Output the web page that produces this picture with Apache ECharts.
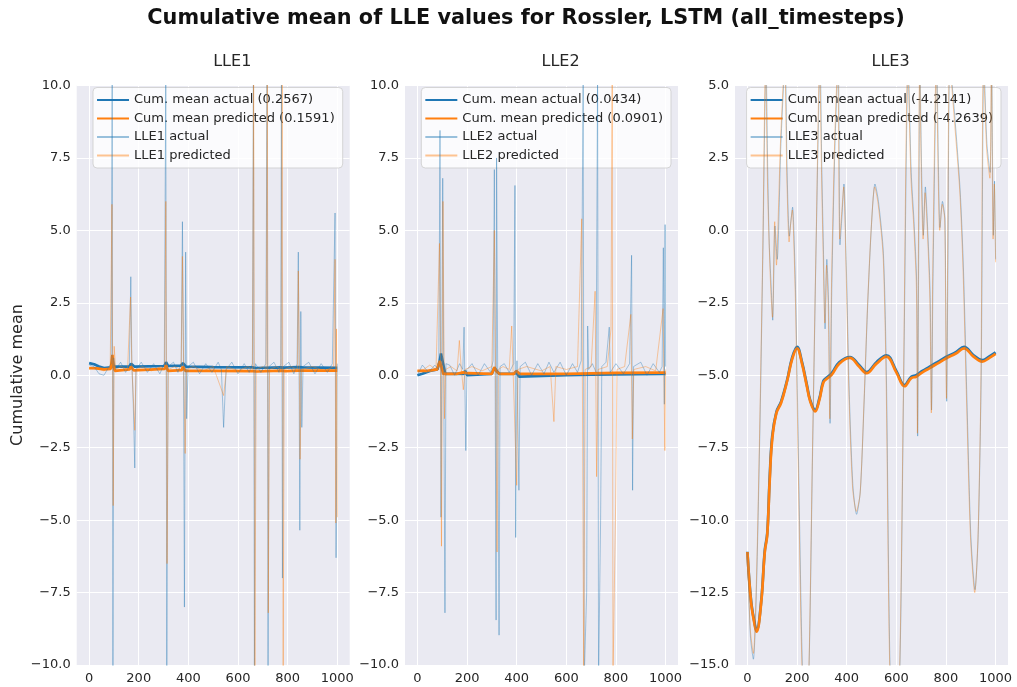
<!DOCTYPE html>
<html>
<head>
<meta charset="utf-8">
<script src="https://cdn.jsdelivr.net/npm/echarts@6/dist/echarts.min.js"></script>
<style>
  html, body { margin: 0; padding: 0; background: #fff; }
  #chart { width: 1017px; height: 687px; }
</style>
</head>
<body>
<div id="chart"></div>
<script>
// x ticks shared by the three panels
const xTicks = [0, 200, 400, 600, 800, 1000]

// ---- LLE1 ----
const lle1CumActual = [[0,0.42],[20,0.38],[40,0.3],[60,0.25],[88,0.27],[94,0.45],[99,0.3],[107,0.35],[162,0.3],[169,0.4],[182,0.3],[303,0.32],[310,0.45],[318,0.32],[370,0.33],[378,0.42],[390,0.3],[500,0.28],[658,0.27],[664,0.33],[672,0.25],[772,0.27],[778,0.32],[785,0.26],[842,0.28],[848,0.31],[860,0.27],[1000,0.2567]]
const lle1CumPred = [[0,0.25],[30,0.24],[60,0.2],[87,0.22],[94,0.7],[98,0.3],[104,0.15],[163,0.2],[168,0.3],[180,0.17],[305,0.22],[310,0.35],[318,0.15],[374,0.18],[378,0.3],[388,0.15],[500,0.15],[660,0.14],[665,0.2],[675,0.13],[775,0.16],[780,0.22],[790,0.14],[842,0.16],[1000,0.1591]]
const lle1Actual = [[0,0.35],[20,0.3],[40,0.05],[60,0.0],[80,0.3],[89,0.4],[93,10.5],[96,-10.5],[99,0.6],[107,0.2],[127,0.45],[147,0.1],[162,0.3],[168,3.4],[172,0.5],[178,-1.0],[184,-3.2],[189,0.2],[210,0.45],[235,0.1],[260,0.4],[285,0.05],[303,0.4],[309,10.5],[313,-10.5],[318,0.3],[340,0.45],[358,0.1],[371,0.4],[376,5.3],[380,0.8],[384,-8.0],[389,4.25],[393,-1.5],[399,0.3],[420,0.45],[445,0.05],[470,0.4],[495,0.1],[520,0.45],[533,0.2],[542,-1.8],[552,0.2],[575,0.45],[600,0.05],[625,0.4],[645,0.1],[658,0.4],[662,10.5],[666,-10.5],[670,0.4],[692,0.1],[712,0.4],[717,10.5],[721,-10.5],[725,0.3],[745,0.45],[765,0.1],[772,0.4],[775,10.5],[779,-7.0],[783,0.3],[805,0.45],[825,0.05],[838,0.4],[843,4.25],[846,0.4],[849,-5.35],[853,2.2],[857,-1.8],[862,0.3],[885,0.45],[910,0.05],[935,0.4],[960,0.1],[980,0.4],[991,5.6],[995,-6.3],[1000,0.4]]
const lle1Pred = [[0,0.2],[30,0.25],[60,0.15],[85,0.3],[92,5.9],[97,-4.5],[101,1.0],[107,0.2],[130,0.3],[155,0.2],[167,2.7],[172,0.4],[184,-1.9],[189,0.2],[215,0.3],[250,0.15],[290,0.3],[304,0.2],[309,6.0],[314,-6.5],[319,0.2],[345,0.3],[371,0.2],[376,4.1],[381,0.3],[387,-2.7],[392,0.2],[420,0.3],[460,0.15],[500,0.3],[542,-0.7],[555,0.3],[600,0.15],[640,0.3],[658,0.2],[663,10.5],[668,-10.5],[673,0.2],[700,0.3],[713,0.2],[718,10.5],[722,-8.2],[727,0.2],[755,0.3],[773,0.2],[778,10.5],[782,-10.5],[786,0.2],[815,0.3],[839,0.2],[843,3.6],[847,0.3],[850,-2.9],[855,0.2],[900,0.3],[950,0.15],[985,0.3],[991,4.0],[994,-5.1],[997,1.6],[1000,-4.9]]

// ---- LLE2 ----
const lle2CumActual = [[0,0.0],[20,0.05],[50,0.15],[80,0.2],[90,0.5],[95,0.75],[103,0.75],[112,0.05],[160,0.05],[187,0.05],[192,0.15],[200,0.0],[300,0.05],[310,0.25],[318,0.2],[330,0.05],[390,0.05],[397,0.12],[410,-0.05],[600,0.0],[700,0.02],[800,0.03],[1000,0.0434]]
const lle2CumPred = [[0,0.15],[40,0.15],[80,0.2],[90,0.5],[96,0.45],[104,0.05],[160,0.05],[185,0.1],[192,0.15],[202,0.07],[300,0.05],[310,0.28],[320,0.12],[332,0.05],[390,0.05],[398,0.15],[412,0.05],[600,0.05],[800,0.08],[1000,0.0901]]
const lle2Actual = [[0,0.0],[20,0.35],[45,0.1],[70,0.35],[86,0.2],[91,8.45],[95,-4.9],[102,6.8],[111,-8.2],[115,0.4],[130,0.35],[150,0.0],[170,0.4],[183,0.2],[188,1.66],[195,-2.6],[200,0.2],[220,0.4],[245,0.0],[270,0.4],[295,0.1],[305,0.5],[310,7.1],[317,-8.45],[319,7.5],[329,-8.97],[333,0.3],[350,0.4],[370,0.1],[388,0.4],[393,6.55],[396,-5.6],[401,0.5],[409,-3.97],[414,0.3],[435,0.45],[460,0.0],[485,0.4],[510,0.05],[530,0.45],[550,0.1],[575,0.45],[600,0.0],[625,0.4],[645,0.1],[660,0.5],[664,5.3],[668,10.5],[672,-10.5],[682,-7.5],[686,1.7],[690,0.2],[705,0.4],[720,0.1],[726,10.5],[730,-10.5],[738,-5.1],[743,0.3],[760,0.45],[773,1.66],[777,0.1],[800,0.4],[830,0.05],[855,0.4],[863,4.14],[867,-3.97],[871,0.3],[900,0.45],[925,0.0],[950,0.4],[975,0.1],[986,0.3],[991,4.4],[995,-1.0],[998,5.2],[1000,0.3]]
const lle2Pred = [[0,0.15],[25,0.2],[50,0.35],[75,0.2],[89,4.55],[93,0.3],[97,-5.9],[103,6.0],[109,-1.5],[114,0.2],[135,0.3],[160,0.15],[169,1.2],[176,0.3],[185,-0.5],[192,0.2],[220,0.3],[260,0.15],[300,0.3],[310,5.0],[315,0.3],[321,-6.1],[326,0.2],[345,0.3],[370,0.2],[380,1.7],[385,0.3],[400,-3.8],[405,0.2],[440,0.3],[500,0.15],[535,0.3],[550,-1.6],[558,0.3],[600,0.2],[645,0.3],[662,5.4],[670,-10.5],[676,0.2],[700,0.3],[716,2.9],[722,-3.5],[728,0.2],[765,0.3],[780,1.6],[785,10.5],[788,-10.5],[799,-4.3],[804,0.2],[835,0.3],[860,2.1],[866,-2.2],[872,0.2],[920,0.3],[960,0.15],[990,2.3],[997,-2.6],[1000,0.2]]

// ---- LLE3 ----
const lle3CumActual = [[0,-11.09],[15,-12.8],[30,-13.6],[37,-13.8],[55,-12.85],[70,-11.05],[80,-10.45],[90,-8.5],[100,-7.1],[117,-6.26],[136,-5.9],[160,-5.17],[180,-4.4],[200,-4.02],[220,-4.55],[240,-5.35],[253,-5.86],[273,-6.2],[290,-5.8],[306,-5.2],[320,-5.08],[340,-4.93],[370,-4.55],[413,-4.37],[450,-4.65],[480,-4.89],[520,-4.55],[560,-4.31],[600,-4.85],[633,-5.34],[660,-5.05],[680,-5.0],[705,-4.85],[733,-4.71],[765,-4.55],[800,-4.37],[840,-4.2],[873,-4.02],[910,-4.3],[946,-4.48],[975,-4.35],[1000,-4.2141]]
const lle3CumPred = [[0,-11.1],[15,-12.85],[30,-13.65],[37,-13.85],[55,-12.9],[70,-11.1],[80,-10.5],[90,-8.6],[100,-7.2],[117,-6.3],[136,-5.95],[160,-5.2],[180,-4.45],[200,-4.07],[220,-4.6],[240,-5.4],[253,-5.9],[273,-6.25],[290,-5.85],[306,-5.25],[320,-5.12],[340,-4.98],[370,-4.6],[413,-4.4],[450,-4.7],[480,-4.93],[520,-4.6],[560,-4.36],[600,-4.9],[633,-5.38],[660,-5.1],[680,-5.05],[705,-4.9],[733,-4.76],[765,-4.6],[800,-4.42],[840,-4.25],[873,-4.07],[910,-4.35],[946,-4.53],[975,-4.4],[1000,-4.2639]]
const lle3Actual = [[0,-11.1],[12,-14.0],[24,-14.8],[36,-12.5],[50,-7.0],[62,-1.0],[75,5.8],[82,2.0],[88,-0.45],[95,-1.8],[102,-3.1],[111,0.15],[120,-1.0],[135,3.0],[152,5.8],[160,2.0],[169,-0.2],[175,0.3],[182,0.8],[189,-0.5],[196,-2.9],[210,-10.0],[222,-15.2],[235,-17.0],[248,-15.2],[262,-8.0],[278,0.0],[293,5.8],[300,2.0],[306,-0.5],[313,-3.4],[320,-1.0],[327,-2.5],[333,-6.66],[340,-2.0],[353,3.0],[366,5.8],[373,-0.5],[381,0.5],[389,1.6],[398,-1.0],[410,-5.5],[425,-8.8],[440,-9.8],[455,-9.0],[470,-6.0],[485,-2.5],[500,0.2],[514,1.6],[528,1.0],[548,-0.8],[560,-5.0],[575,-15.2],[594,-18.0],[614,-15.2],[630,-5.0],[648,5.8],[660,2.0],[671,0.35],[682,-1.8],[686,-7.1],[690,-1.0],[695,5.8],[702,2.0],[709,-0.17],[717,1.5],[725,0.3],[736,-2.1],[742,-6.2],[748,-1.5],[763,5.8],[770,2.0],[776,0.1],[786,1.0],[796,0.35],[803,-5.9],[808,-1.0],[816,5.8],[835,4.0],[857,1.4],[870,-1.2],[885,-6.0],[900,-10.5],[917,-12.4],[930,-10.5],[942,-5.0],[953,5.8],[965,3.0],[978,2.0],[984,5.8],[991,-0.17],[996,1.7],[1000,-1.0]]
const lle3Pred = [[0,-11.1],[12,-13.8],[24,-14.6],[36,-12.2],[50,-6.6],[62,-0.6],[73,5.8],[81,1.6],[87,-0.3],[94,-2.0],[101,-3.0],[110,0.3],[117,-1.2],[125,0.7],[134,3.2],[150,5.8],[159,1.8],[168,-0.4],[174,0.2],[181,0.7],[188,-0.7],[195,-3.0],[209,-10.3],[221,-15.4],[234,-17.0],[247,-15.4],[261,-8.2],[277,-0.3],[291,5.8],[299,1.8],[305,-0.7],[312,-3.2],[319,-1.2],[326,-2.7],[332,-6.5],[339,-1.8],[352,3.2],[364,5.8],[372,-0.3],[380,0.6],[388,1.5],[397,-1.1],[409,-5.6],[424,-8.9],[439,-9.7],[454,-9.1],[469,-6.1],[484,-2.6],[499,0.1],[513,1.5],[527,0.9],[547,-0.9],[559,-5.2],[574,-15.3],[593,-18.0],[613,-15.3],[629,-5.2],[646,5.8],[659,1.8],[670,0.2],[681,-2.0],[685,-7.0],[689,-0.8],[694,5.8],[701,1.8],[708,-0.3],[716,1.3],[724,0.2],[735,-2.3],[741,-6.3],[747,-1.3],[761,5.8],[769,1.8],[775,0.0],[785,0.9],[795,0.4],[802,-5.8],[807,-0.8],[815,5.8],[834,3.8],[856,1.3],[869,-1.4],[884,-6.2],[899,-10.6],[916,-12.5],[929,-10.6],[941,-5.2],[951,5.8],[964,2.8],[977,1.8],[983,5.8],[990,-0.3],[995,1.6],[1000,-1.1]]

const panels = [
  { title: 'LLE1', yMin: -10, yMax: 10, left: 76.7, smooth: false, cumActual: lle1CumActual, cumPred: lle1CumPred, actual: lle1Actual, pred: lle1Pred, cumActualVal: '0.2567', cumPredVal: '0.1591' },
  { title: 'LLE2', yMin: -10, yMax: 10, left: 405, smooth: false, cumActual: lle2CumActual, cumPred: lle2CumPred, actual: lle2Actual, pred: lle2Pred, cumActualVal: '0.0434', cumPredVal: '0.0901' },
  { title: 'LLE3', yMin: -15, yMax: 5, left: 735, smooth: true, cumActual: lle3CumActual, cumPred: lle3CumPred, actual: lle3Actual, pred: lle3Pred, cumActualVal: '-4.2141', cumPredVal: '-4.2639' },
]

const FONT = '"DejaVu Sans", sans-serif'
const BLUE = '#1f77b4'
const ORANGE = '#ff7f0e'
const TEXT = '#262626'
const PLOT_W = 273
const PLOT_TOP = 85.5
const PLOT_H = 579.5

const grids = []
const xAxes = []
const yAxes = []
const series = []
const legends = []
const graphics = []

panels.forEach((p, i) => {
  grids.push({
    left: p.left, top: PLOT_TOP, width: PLOT_W, height: PLOT_H,
    show: true, backgroundColor: '#eaeaf2', borderWidth: 0,
  })
  xAxes.push({
    gridIndex: i, type: 'value', min: -50, max: 1050,
    axisLine: { show: false },
    axisTick: { show: false, customValues: xTicks },
    axisLabel: { customValues: xTicks, color: TEXT, fontSize: 13, fontFamily: FONT, margin: 7, formatter: v => String(v) },
    splitLine: { show: true, lineStyle: { color: '#ffffff', width: 1 } },
  })
  yAxes.push({
    gridIndex: i, type: 'value', min: p.yMin, max: p.yMax, interval: 2.5,
    axisLine: { show: false },
    axisTick: { show: false },
    axisLabel: {
      color: TEXT, fontSize: 13, fontFamily: FONT, margin: 6,
      formatter: v => v.toFixed(1).replace('-', '\u2212'),
    },
    splitLine: { show: true, lineStyle: { color: '#ffffff', width: 1 } },
  })

  const names = [
    `Cum. mean actual (${p.cumActualVal})`,
    `Cum. mean predicted (${p.cumPredVal})`,
    `${p.title} actual`,
    `${p.title} predicted`,
  ]
  const base = { type: 'line', xAxisIndex: i, yAxisIndex: i, symbol: 'none', clip: true, silent: true }
  // LLE3 is a slow signal, so its lines are drawn with a light spline
  const cumSmooth = p.smooth ? 0.4 : false
  const rawSmooth = p.smooth ? 0.25 : false
  series.push(
    { ...base, name: names[0], data: p.cumActual, smooth: cumSmooth, lineStyle: { color: BLUE, width: 2.7 }, itemStyle: { color: BLUE }, z: 2 },
    { ...base, name: names[1], data: p.cumPred, smooth: cumSmooth, lineStyle: { color: ORANGE, width: 2.7 }, itemStyle: { color: ORANGE }, z: 3 },
    { ...base, name: names[2], data: p.actual, smooth: rawSmooth, lineStyle: { color: BLUE, width: 0.85, opacity: 0.45 }, itemStyle: { color: BLUE }, z: 4 },
    { ...base, name: names[3], data: p.pred, smooth: rawSmooth, lineStyle: { color: ORANGE, width: 0.85, opacity: 0.45 }, itemStyle: { color: ORANGE }, z: 5 },
  )

  legends.push({
    data: names, orient: 'vertical', selectedMode: false,
    right: 1017 - (p.left + PLOT_W - 7), top: 87.5,
    itemWidth: 32, itemHeight: 14, itemGap: 5.5,
    padding: [6, 8, 6, 3],
    backgroundColor: 'rgba(255,255,255,0.8)',
    borderColor: 'rgba(204,204,204,0.8)', borderWidth: 1, borderRadius: 4,
    itemStyle: { opacity: 0 },
    textStyle: { color: TEXT, fontSize: 13, fontFamily: FONT },
  })

  graphics.push({
    type: 'text', left: p.left + PLOT_W / 2, top: 54,
    style: { text: p.title, font: `16px ${FONT}`, fill: TEXT, textAlign: 'center' },
  })
})

// figure title and shared y-axis label
graphics.push(
  {
    type: 'text', x: 526, y: 19,
    style: {
      text: 'Cumulative mean of LLE values for Rossler, LSTM (all_timesteps)',
      font: `bold 20.8px ${FONT}`, fill: '#111', textAlign: 'center', textVerticalAlign: 'middle',
    },
  },
  {
    type: 'text', x: 18, y: 375, rotation: Math.PI / 2,
    style: { text: 'Cumulative mean', font: `16px ${FONT}`, fill: TEXT, textAlign: 'center', textVerticalAlign: 'middle' },
  },
)

const chart = echarts.init(document.getElementById('chart'), null, { renderer: 'canvas' })
chart.setOption({
  animation: false,
  backgroundColor: '#ffffff',
  textStyle: { fontFamily: FONT },
  grid: grids,
  xAxis: xAxes,
  yAxis: yAxes,
  legend: legends,
  series,
  graphic: graphics,
})
</script>
</body>
</html>
